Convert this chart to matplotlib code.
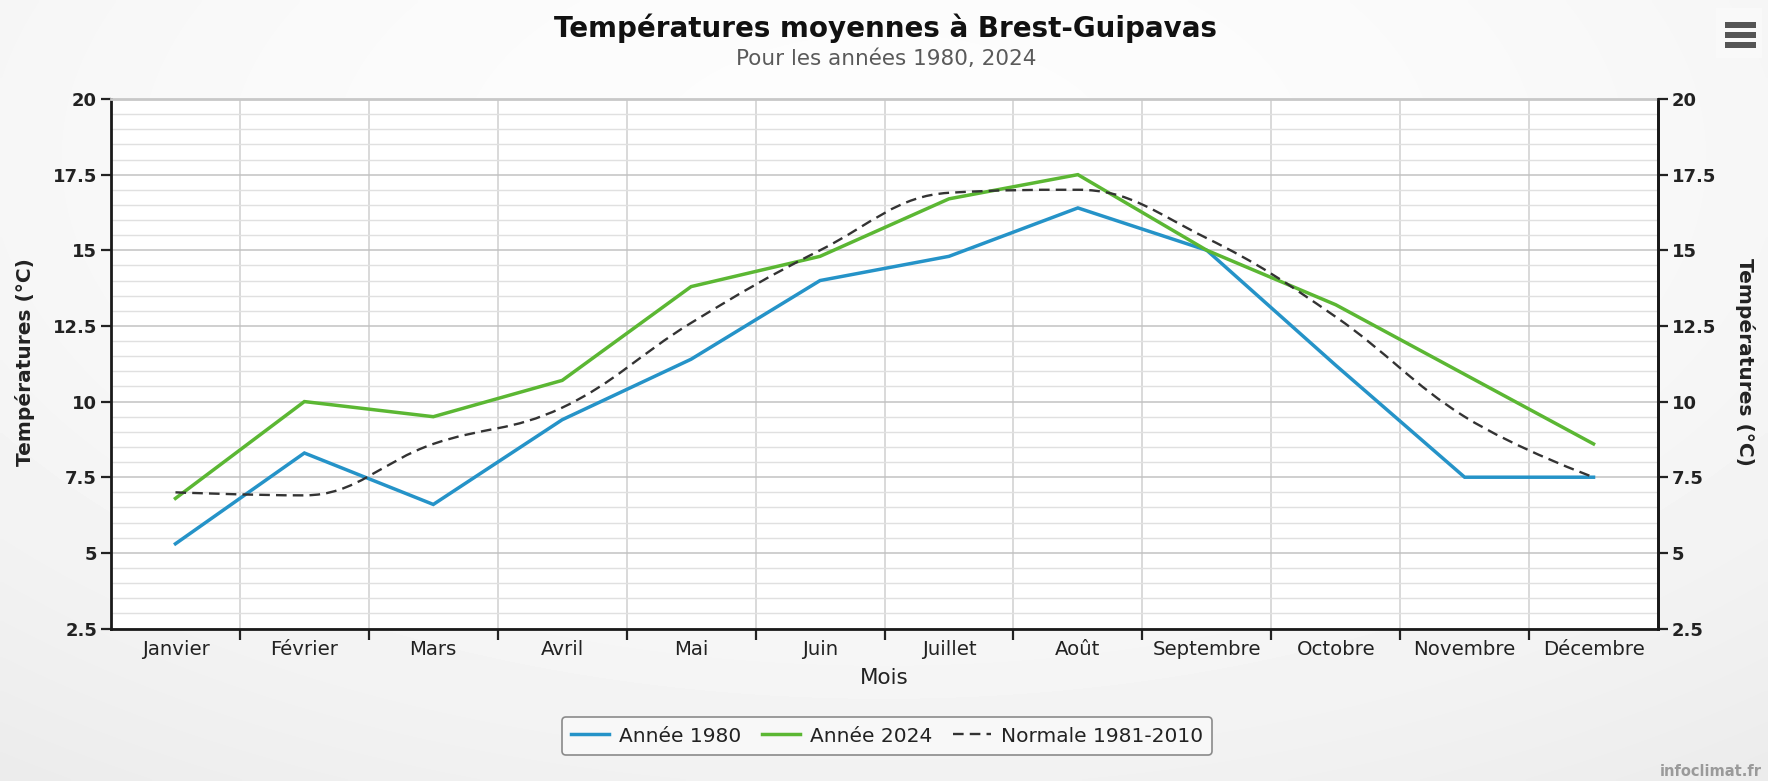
import matplotlib
matplotlib.use("Agg")
import numpy as np
import matplotlib.pyplot as plt
from matplotlib.path import Path
from matplotlib.patches import PathPatch, Rectangle
from matplotlib.lines import Line2D
from matplotlib.ticker import MultipleLocator, FuncFormatter, FixedLocator

months = ["Janvier", "Février", "Mars", "Avril", "Mai", "Juin", "Juillet",
          "Août", "Septembre", "Octobre", "Novembre", "Décembre"]
annee_1980 = [5.3, 8.3, 6.6, 9.4, 11.4, 14.0, 14.8, 16.4, 15.0, 11.2, 7.5, 7.5]
annee_2024 = [6.8, 10.0, 9.5, 10.7, 13.8, 14.8, 16.7, 17.5, 15.0, 13.2, 10.9, 8.6]
normale = [7.0, 6.9, 8.6, 9.8, 12.6, 15.0, 16.9, 17.0, 15.4, 12.8, 9.5, 7.5]

title = "Températures moyennes à Brest-Guipavas"
subtitle = "Pour les années 1980, 2024"
ylabel = "Températures (°C)"
xlabel = "Mois"
legend_labels = ["Année 1980", "Année 2024", "Normale 1981-2010"]
credit = "infoclimat.fr"

BLUE = "#2593c8"
GREEN = "#5bb733"
DARK = "#333333"
TXT = "#222222"

plt.rcParams["font.family"] = ["DejaVu Sans"]

W, H = 1768, 781
fig = plt.figure(figsize=(W / 100, H / 100), dpi=100, facecolor="#f1f1f1")

# subtle radial background gradient (decoration)
bg = fig.add_axes([0, 0, 1, 1], zorder=-10)
gy, gx = np.mgrid[0:1:200j, 0:1:400j]
rr2 = ((gx - 0.5) / 0.75) ** 2 + ((gy - 0.2) / 0.9) ** 2
shade = 0.99 - 0.055 * rr2
bg.imshow(shade, cmap="gray", vmin=0, vmax=1, aspect="auto",
          extent=[0, 1, 0, 1], origin="upper", interpolation="bilinear")
bg.set_axis_off()

# plot area in pixels
L, R, T, B = 111, 1658, 99, 628.5
ax = fig.add_axes([L / W, 1 - B / H, (R - L) / W, (B - T) / H])
ax.set_facecolor("white")

x = list(range(len(months)))


def highcharts_spline(xs, ys, smoothing=1.5):
    n = len(xs)
    denom = smoothing + 1
    left = [None] * n
    right = [None] * n
    for i in range(1, n - 1):
        lx, ly = xs[i - 1], ys[i - 1]
        px, py = xs[i], ys[i]
        nx, ny = xs[i + 1], ys[i + 1]
        lcx = (smoothing * px + lx) / denom
        lcy = (smoothing * py + ly) / denom
        rcx = (smoothing * px + nx) / denom
        rcy = (smoothing * py + ny) / denom
        if rcx != lcx:
            corr = ((rcy - lcy) * (rcx - px)) / (rcx - lcx) + py - rcy
            lcy += corr
            rcy += corr
        if lcy > ly and lcy > py:
            lcy = max(ly, py)
            rcy = 2 * py - lcy
        elif lcy < ly and lcy < py:
            lcy = min(ly, py)
            rcy = 2 * py - lcy
        if rcy > ny and rcy > py:
            rcy = max(ny, py)
            lcy = 2 * py - rcy
        elif rcy < ny and rcy < py:
            rcy = min(ny, py)
            lcy = 2 * py - rcy
        left[i] = (lcx, lcy)
        right[i] = (rcx, rcy)
    verts = [(xs[0], ys[0])]
    codes = [Path.MOVETO]
    for i in range(1, n):
        c1 = right[i - 1] if right[i - 1] is not None else (xs[i - 1], ys[i - 1])
        c2 = left[i] if left[i] is not None else (xs[i], ys[i])
        verts += [c1, c2, (xs[i], ys[i])]
        codes += [Path.CURVE4] * 3
    return Path(verts, codes)


LW = 2.5
DASH = (0, (4.5, 2.6))
ax.plot(x, annee_1980, color=BLUE, lw=LW, solid_joinstyle="miter", zorder=4)
ax.plot(x, annee_2024, color=GREEN, lw=LW, solid_joinstyle="miter", zorder=4)
patch = PathPatch(highcharts_spline(x, normale), fill=False, edgecolor=DARK,
                  lw=1.7, linestyle=DASH, zorder=5)
ax.add_patch(patch)

ax.set_xlim(-0.5, len(months) - 0.5)
ax.set_ylim(2.5, 20)

# y axis
ax.yaxis.set_major_locator(MultipleLocator(2.5))
ax.yaxis.set_minor_locator(MultipleLocator(0.5))
fmt = FuncFormatter(lambda v, p: f"{v:g}")
ax.yaxis.set_major_formatter(fmt)
ax.grid(axis="y", which="major", color="#c2c2c2", lw=1.1, zorder=1)
ax.grid(axis="y", which="minor", color="#e0e0e0", lw=1.0, zorder=1)
ax.tick_params(axis="y", which="major", direction="out", length=7, width=1.6,
               color=TXT, labelsize=13, labelcolor=TXT, pad=3)
ax.tick_params(axis="y", which="minor", length=0)
for lab in ax.get_yticklabels():
    lab.set_fontweight("bold")

# x axis: labels at centres, ticks/gridlines at boundaries
ax.xaxis.set_major_locator(FixedLocator(x))
ax.set_xticklabels(months)
ax.xaxis.set_minor_locator(FixedLocator([i + 0.5 for i in x[:-1]]))
ax.tick_params(axis="x", which="major", length=0, labelsize=14.2,
               labelcolor=TXT, pad=8)
ax.tick_params(axis="x", which="minor", direction="out", length=8, width=1.6,
               color=TXT)
ax.grid(axis="x", which="minor", color="#cfcfcf", lw=1.1, zorder=1)
ax.set_axisbelow(True)

for side in ["left", "bottom", "right"]:
    ax.spines[side].set_color("#1a1a1a")
    ax.spines[side].set_linewidth(2.0)
ax.spines["top"].set_color("#c8c8c8")
ax.spines["top"].set_linewidth(2.0)

ax.set_xlabel(xlabel, fontsize=15.5, color=TXT, labelpad=7)

# right axis (mirror)
ax2 = ax.twinx()
ax2.set_ylim(ax.get_ylim())
ax2.yaxis.set_major_locator(MultipleLocator(2.5))
ax2.yaxis.set_major_formatter(fmt)
ax2.tick_params(axis="y", direction="out", length=7, width=1.6,
                color=TXT, labelsize=13, labelcolor=TXT, pad=3)
for lab in ax2.get_yticklabels():
    lab.set_fontweight("bold")
for s in ["left", "bottom", "top"]:
    ax2.spines[s].set_visible(False)
ax2.spines["right"].set_color("#1a1a1a")
ax2.spines["right"].set_linewidth(2.0)

# axis titles
fig.text(25 / W, 1 - 362 / H, ylabel, rotation=90, ha="center", va="center",
         fontsize=14.5, fontweight="bold", color=TXT)
fig.text(1745 / W, 1 - 362 / H, ylabel, rotation=270, ha="center",
         va="center", fontsize=14.5, fontweight="bold", color=TXT)

# titles
fig.text(886 / W, 1 - 28 / H, title, ha="center", va="center",
         fontsize=20, fontweight="bold", color="#111111")
fig.text(886 / W, 1 - 59 / H, subtitle, ha="center", va="center",
         fontsize=15.5, color="#5a5a5a")

# legend
handles = [Line2D([], [], color=BLUE, lw=LW),
           Line2D([], [], color=GREEN, lw=LW),
           Line2D([], [], color=DARK, lw=1.7, linestyle=DASH)]
leg = fig.legend(handles, legend_labels, loc="center",
                 bbox_to_anchor=(887 / W, 1 - 736 / H), ncol=3,
                 fontsize=14.5, frameon=True, fancybox=True,
                 handlelength=1.9, handletextpad=0.5, columnspacing=1.0,
                 borderpad=0.45)
leg.get_frame().set_edgecolor("#8a8a8a")
leg.get_frame().set_facecolor("#f8f8f8")
leg.get_frame().set_linewidth(1.2)
leg.get_frame().set_alpha(1)
for t in leg.get_texts():
    t.set_color(TXT)

# credit
fig.text(1762 / W, 1 - 771 / H, credit, ha="right", va="center",
         fontsize=10.5, color="#9a9a9a", fontweight="bold")

# menu icon
fig.patches.append(Rectangle((1716 / W, 1 - 58 / H), 46 / W, 50 / H,
                             transform=fig.transFigure, facecolor="#f9f9f9",
                             edgecolor="none", zorder=1))
for yy in (25, 35, 45):
    fig.patches.append(Rectangle((1725 / W, 1 - (yy + 2.5) / H), 31 / W, 5 / H,
                                 transform=fig.transFigure,
                                 facecolor="#555555", edgecolor="none",
                                 zorder=2))

fig.savefig("out.png", dpi=100, facecolor=fig.get_facecolor())
